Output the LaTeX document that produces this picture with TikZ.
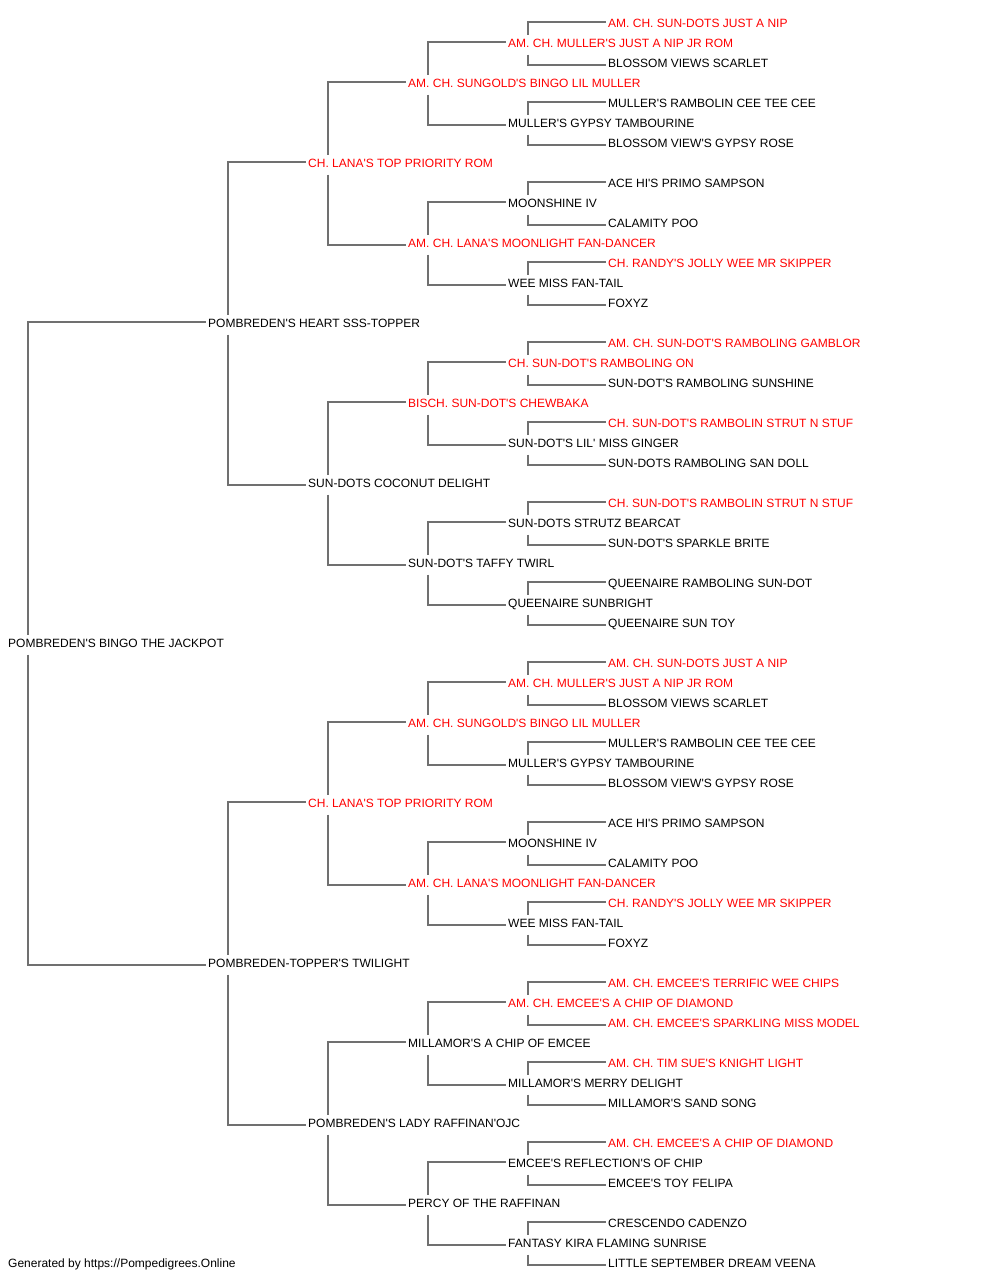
\documentclass[tikz,border=0pt]{standalone}
\usepackage{fontspec}
\setmainfont{Liberation Sans}[Ligatures=TeXOff]
\definecolor{champ}{RGB}{255,0,0}
\definecolor{linegray}{RGB}{112,112,112}
\begin{document}
\begin{tikzpicture}[x=1pt,y=-1pt,
  dog/.style={anchor=west,inner xsep=2pt,inner ysep=0pt,text height=8.8pt,text depth=0pt,
    font=\fontsize{12}{14}\selectfont,text=black},
  champdog/.style={dog,text=champ},
  link/.style={draw=linegray,line width=1.8pt}]
\fill[white] (0,0) rectangle (1000,1280);
\useasboundingbox (0,0) rectangle (1000,1280);
% generation 0
\node[dog] (n1) at (6,643.5) {POMBREDEN'S BINGO THE JACKPOT};
% generation 1
\node[dog] (n2) at (206,323.5) {POMBREDEN'S HEART SSS-TOPPER};
\node[dog] (n3) at (206,963.5) {POMBREDEN-TOPPER'S TWILIGHT};
% generation 2
\node[champdog] (n4) at (306,163.5) {CH. LANA'S TOP PRIORITY ROM};
\node[dog] (n5) at (306,483.5) {SUN-DOTS COCONUT DELIGHT};
\node[champdog] (n6) at (306,803.5) {CH. LANA'S TOP PRIORITY ROM};
\node[dog] (n7) at (306,1123.5) {POMBREDEN'S LADY RAFFINAN'OJC};
% generation 3
\node[champdog] (n8) at (406,83.5) {AM. CH. SUNGOLD'S BINGO LIL MULLER};
\node[champdog] (n9) at (406,243.5) {AM. CH. LANA'S MOONLIGHT FAN-DANCER};
\node[champdog] (n10) at (406,403.5) {BISCH. SUN-DOT'S CHEWBAKA};
\node[dog] (n11) at (406,563.5) {SUN-DOT'S TAFFY TWIRL};
\node[champdog] (n12) at (406,723.5) {AM. CH. SUNGOLD'S BINGO LIL MULLER};
\node[champdog] (n13) at (406,883.5) {AM. CH. LANA'S MOONLIGHT FAN-DANCER};
\node[dog] (n14) at (406,1043.5) {MILLAMOR'S A CHIP OF EMCEE};
\node[dog] (n15) at (406,1203.5) {PERCY OF THE RAFFINAN};
% generation 4
\node[champdog] (n16) at (506,43.5) {AM. CH. MULLER'S JUST A NIP JR ROM};
\node[dog] (n17) at (506,123.5) {MULLER'S GYPSY TAMBOURINE};
\node[dog] (n18) at (506,203.5) {MOONSHINE IV};
\node[dog] (n19) at (506,283.5) {WEE MISS FAN-TAIL};
\node[champdog] (n20) at (506,363.5) {CH. SUN-DOT'S RAMBOLING ON};
\node[dog] (n21) at (506,443.5) {SUN-DOT'S LIL' MISS GINGER};
\node[dog] (n22) at (506,523.5) {SUN-DOTS STRUTZ BEARCAT};
\node[dog] (n23) at (506,603.5) {QUEENAIRE SUNBRIGHT};
\node[champdog] (n24) at (506,683.5) {AM. CH. MULLER'S JUST A NIP JR ROM};
\node[dog] (n25) at (506,763.5) {MULLER'S GYPSY TAMBOURINE};
\node[dog] (n26) at (506,843.5) {MOONSHINE IV};
\node[dog] (n27) at (506,923.5) {WEE MISS FAN-TAIL};
\node[champdog] (n28) at (506,1003.5) {AM. CH. EMCEE'S A CHIP OF DIAMOND};
\node[dog] (n29) at (506,1083.5) {MILLAMOR'S MERRY DELIGHT};
\node[dog] (n30) at (506,1163.5) {EMCEE'S REFLECTION'S OF CHIP};
\node[dog] (n31) at (506,1243.5) {FANTASY KIRA FLAMING SUNRISE};
% generation 5
\node[champdog] (n32) at (606,23.5) {AM. CH. SUN-DOTS JUST A NIP};
\node[dog] (n33) at (606,63.5) {BLOSSOM VIEWS SCARLET};
\node[dog] (n34) at (606,103.5) {MULLER'S RAMBOLIN CEE TEE CEE};
\node[dog] (n35) at (606,143.5) {BLOSSOM VIEW'S GYPSY ROSE};
\node[dog] (n36) at (606,183.5) {ACE HI'S PRIMO SAMPSON};
\node[dog] (n37) at (606,223.5) {CALAMITY POO};
\node[champdog] (n38) at (606,263.5) {CH. RANDY'S JOLLY WEE MR SKIPPER};
\node[dog] (n39) at (606,303.5) {FOXYZ};
\node[champdog] (n40) at (606,343.5) {AM. CH. SUN-DOT'S RAMBOLING GAMBLOR};
\node[dog] (n41) at (606,383.5) {SUN-DOT'S RAMBOLING SUNSHINE};
\node[champdog] (n42) at (606,423.5) {CH. SUN-DOT'S RAMBOLIN STRUT N STUF};
\node[dog] (n43) at (606,463.5) {SUN-DOTS RAMBOLING SAN DOLL};
\node[champdog] (n44) at (606,503.5) {CH. SUN-DOT'S RAMBOLIN STRUT N STUF};
\node[dog] (n45) at (606,543.5) {SUN-DOT'S SPARKLE BRITE};
\node[dog] (n46) at (606,583.5) {QUEENAIRE RAMBOLING SUN-DOT};
\node[dog] (n47) at (606,623.5) {QUEENAIRE SUN TOY};
\node[champdog] (n48) at (606,663.5) {AM. CH. SUN-DOTS JUST A NIP};
\node[dog] (n49) at (606,703.5) {BLOSSOM VIEWS SCARLET};
\node[dog] (n50) at (606,743.5) {MULLER'S RAMBOLIN CEE TEE CEE};
\node[dog] (n51) at (606,783.5) {BLOSSOM VIEW'S GYPSY ROSE};
\node[dog] (n52) at (606,823.5) {ACE HI'S PRIMO SAMPSON};
\node[dog] (n53) at (606,863.5) {CALAMITY POO};
\node[champdog] (n54) at (606,903.5) {CH. RANDY'S JOLLY WEE MR SKIPPER};
\node[dog] (n55) at (606,943.5) {FOXYZ};
\node[champdog] (n56) at (606,983.5) {AM. CH. EMCEE'S TERRIFIC WEE CHIPS};
\node[champdog] (n57) at (606,1023.5) {AM. CH. EMCEE'S SPARKLING MISS MODEL};
\node[champdog] (n58) at (606,1063.5) {AM. CH. TIM SUE'S KNIGHT LIGHT};
\node[dog] (n59) at (606,1103.5) {MILLAMOR'S SAND SONG};
\node[champdog] (n60) at (606,1143.5) {AM. CH. EMCEE'S A CHIP OF DIAMOND};
\node[dog] (n61) at (606,1183.5) {EMCEE'S TOY FELIPA};
\node[dog] (n62) at (606,1223.5) {CRESCENDO CADENZO};
\node[dog] (n63) at (606,1263.5) {LITTLE SEPTEMBER DREAM VEENA};
% footer
\node[dog] (footer) at (6,1263.5) {Generated by https://Pompedigrees.Online};
% connectors
\foreach \k in {1,...,31} {
  \pgfmathtruncatemacro\sire{2*\k}
  \pgfmathtruncatemacro\dam{2*\k+1}
  \draw[link] ([xshift=22pt,yshift=9pt]n\k.west) |- ([yshift=1.3pt]n\sire.west);
  \draw[link] ([xshift=22pt,yshift=-11pt]n\k.west) |- ([yshift=-1.2pt]n\dam.west);
}
\end{tikzpicture}
\end{document}
